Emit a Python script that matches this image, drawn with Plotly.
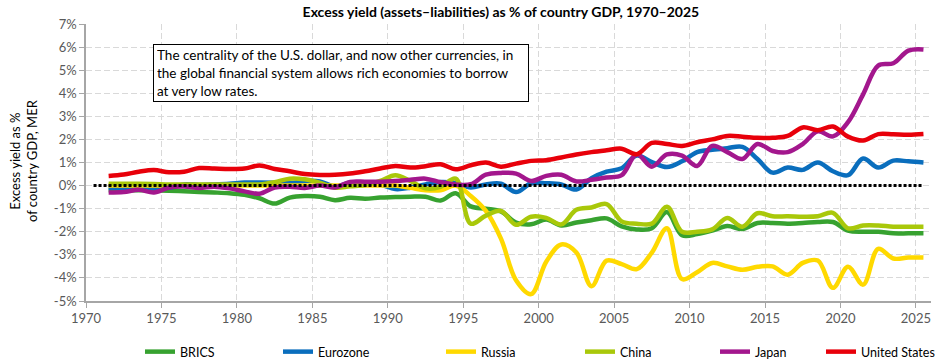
import plotly.graph_objects as go

# ---- data (annual values, plotted at mid-year) ----
years = list(range(1971, 2026))
zero_years = list(range(1970, 2026))

brics = [-0.20, -0.20, -0.20, -0.20, -0.22, -0.25, -0.28, -0.30, -0.33, -0.40,
         -0.55, -0.78, -0.52, -0.45, -0.48, -0.63, -0.53, -0.57, -0.52, -0.50,
         -0.48, -0.48, -0.65, -0.33, -0.90, -1.00, -1.12, -1.60, -1.68, -1.47,
         -1.73, -1.60, -1.50, -1.42, -1.77, -1.90, -1.85, -1.15, -2.15, -2.10,
         -1.95, -1.75, -1.88, -1.62, -1.62, -1.65, -1.62, -1.58, -1.58, -1.95,
         -2.00, -2.00, -2.07, -2.07, -2.07]

eurozone = [-0.10, -0.10, -0.12, -0.12, -0.10, 0.05, 0.03, 0.05, 0.08, 0.13,
            0.13, 0.12, 0.10, 0.20, 0.18, -0.04, 0.13, 0.10, 0.05, -0.15,
            -0.09, 0.05, 0.15, 0.10, -0.08, 0.05, 0.08, -0.28, 0.10, 0.10,
            0.05, -0.17, 0.32, 0.60, 0.75, 1.30, 1.02, 0.80, 1.05, 1.45,
            1.55, 1.62, 1.68, 1.15, 0.56, 0.78, 0.68, 1.00, 0.62, 0.45,
            1.17, 0.78, 1.08, 1.05, 1.00]

russia = [0.0, 0.0, 0.0, 0.0, 0.0, 0.0, 0.0, 0.0, 0.0, 0.0,
          0.0, 0.0, 0.0, 0.0, 0.0, 0.0, 0.0, 0.0, 0.0, 0.0,
          -0.10, -0.20, -0.20, 0.00, -0.45, -1.10, -2.30, -4.10, -4.70, -3.30,
          -2.55, -2.90, -4.36, -3.25, -3.40, -3.62, -2.90, -1.85, -4.05, -3.75,
          -3.35, -3.50, -3.65, -3.52, -3.50, -3.86, -3.35, -3.25, -4.43, -3.52,
          -4.29, -2.74, -3.16, -3.12, -3.12]

china = [0.08, 0.08, 0.08, 0.07, 0.05, 0.05, 0.05, 0.05, 0.05, 0.05,
         0.05, 0.15, 0.30, 0.27, 0.12, -0.09, -0.03, 0.02, 0.20, 0.45,
         0.20, -0.12, -0.05, 0.30, -1.65, -1.30, -1.10, -1.70, -1.35, -1.40,
         -1.68, -1.05, -0.95, -0.80, -1.55, -1.65, -1.65, -0.92, -2.00, -2.00,
         -1.90, -1.40, -1.78, -1.20, -1.33, -1.33, -1.35, -1.33, -1.18, -1.85,
         -1.73, -1.73, -1.78, -1.78, -1.78]

japan = [-0.30, -0.28, -0.18, -0.30, -0.08, -0.04, -0.10, -0.05, -0.12, -0.25,
         -0.35, -0.08, -0.05, -0.10, 0.00, -0.08, 0.16, 0.17, 0.17, 0.20,
         0.25, 0.30, 0.15, 0.05, 0.06, 0.47, 0.55, 0.52, 0.20, 0.42,
         0.47, 0.18, 0.25, 0.35, 0.45, 1.36, 0.82, 1.35, 1.30, 0.85,
         1.72, 1.45, 1.15, 1.80, 1.50, 1.45, 1.80, 2.35, 2.13, 2.75,
         3.95, 5.20, 5.30, 5.85, 5.90]

united_states = [0.42, 0.48, 0.60, 0.67, 0.58, 0.60, 0.76, 0.74, 0.72, 0.74,
                 0.87, 0.72, 0.62, 0.50, 0.46, 0.47, 0.52, 0.62, 0.74, 0.85,
                 0.78, 0.84, 0.92, 0.71, 0.88, 1.00, 0.82, 0.95, 1.07, 1.10,
                 1.22, 1.35, 1.45, 1.53, 1.60, 1.36, 1.85, 1.80, 1.72, 1.88,
                 2.00, 2.15, 2.12, 2.07, 2.07, 2.15, 2.52, 2.40, 2.56, 2.12,
                 1.95, 2.23, 2.22, 2.20, 2.23]

zero_line = [0.0] * len(zero_years)

series_names = ["BRICS", "Eurozone", "Russia", "China", "Japan", "United States"]
series_values = [brics, eurozone, russia, china, japan, united_states]
series_colors = ["#37A230", "#0A6EBD", "#FFD900", "#A9C80A", "#A3178D", "#E8000A"]

y_ticks = list(range(-5, 8))
y_tick_text = [f"{v}%" for v in y_ticks]
x_ticks = list(range(1970, 2030, 5))

FONT = "Lato, Carlito, 'Liberation Sans', Arial, sans-serif"

# plot-area geometry (px)
L, R, T, B = 86, 14, 24, 61
W, H = 945, 362
PW = W - L - R
PH = H - T - B

# legend entry start positions (px, left edge of line symbol)
legend_px = [145, 283, 446, 585, 720, 826]
LEG_OFFSET = 5

fig = go.Figure()
xmid = [y + 0.5 for y in years]
legend_ids = ["legend"] + [f"legend{i}" for i in range(2, 7)]
for name, vals, col, lid in zip(series_names, series_values, series_colors, legend_ids):
    fig.add_trace(go.Scatter(
        x=xmid, y=vals, name=name, mode="lines", legend=lid,
        line=dict(color=col, width=4.5, shape="spline", smoothing=1.0),
    ))

fig.add_trace(go.Scatter(
    x=[y + 0.5 for y in zero_years], y=zero_line, mode="lines",
    line=dict(color="black", width=3, dash="3px,2px"),
    showlegend=False, hoverinfo="skip",
))

legend_style = dict(
    orientation="h", xanchor="left", y=(T + PH - 352) / PH, yanchor="middle",
    font=dict(family=FONT, size=12.5, color="black"),
    itemwidth=30, bgcolor="rgba(0,0,0,0)", borderwidth=0,
)
legends = {}
for lid, px in zip(legend_ids, legend_px):
    legends[lid] = dict(legend_style, x=(px - LEG_OFFSET - L) / PW)

fig.update_layout(
    width=W, height=H,
    margin=dict(l=L, r=R, t=T, b=B, autoexpand=False),
    paper_bgcolor="white", plot_bgcolor="white",
    font=dict(family=FONT, size=13, color="#595959"),
    title=dict(
        text="<b>Excess yield (assets\u2013liabilities) as % of country GDP, 1970\u20132025</b>",
        x=0.491, xref="paper", xanchor="center",
        y=1 - 12 / H, yref="container", yanchor="middle",
        font=dict(family=FONT, size=14, color="black"),
    ),
    xaxis=dict(
        range=[1970, 2026], tickvals=x_ticks, ticks="outside", ticklen=5,
        tickcolor="#A6A6A6", showline=True, linecolor="#A6A6A6", linewidth=1.5,
        showgrid=True, gridcolor="#D9D9D9", griddash="6px,3px", gridwidth=1,
        zeroline=False, tickfont=dict(size=13, color="#595959"), automargin=False,
    ),
    yaxis=dict(
        range=[-5, 7], tickvals=y_ticks, ticktext=y_tick_text,
        ticks="outside", ticklen=5, tickcolor="#A6A6A6",
        showline=True, linecolor="#A6A6A6", linewidth=1.5,
        showgrid=True, gridcolor="#D9D9D9", griddash="6px,3px", gridwidth=1,
        zeroline=False, tickfont=dict(size=13, color="#595959"), automargin=False,
    ),
    annotations=[
        dict(
            text=("The centrality of the U.S. dollar, and now other currencies, in<br>"
                  "the global financial system allows rich economies to borrow<br>"
                  "at very low rates."),
            xref="paper", yref="paper", x=(153 - L) / PW, y=(T + PH - 44) / PH,
            xanchor="left", yanchor="top", align="left", valign="middle",
            showarrow=False, width=368, height=50,
            bordercolor="black", borderwidth=1, borderpad=3, bgcolor="white",
            font=dict(family=FONT, size=13.5, color="black"),
        ),
        dict(
            text="Excess yield as %<br>of country GDP, MER",
            xref="paper", yref="paper", x=(23 - L) / PW, y=(T + PH - 161) / PH,
            xanchor="center", yanchor="middle", textangle=-90, showarrow=False,
            align="center", font=dict(family=FONT, size=13, color="black"),
        ),
    ],
    showlegend=True,
    **legends,
)

fig.write_html("out.html", config={"displayModeBar": False},
               post_script="document.body.style.margin='0';")
